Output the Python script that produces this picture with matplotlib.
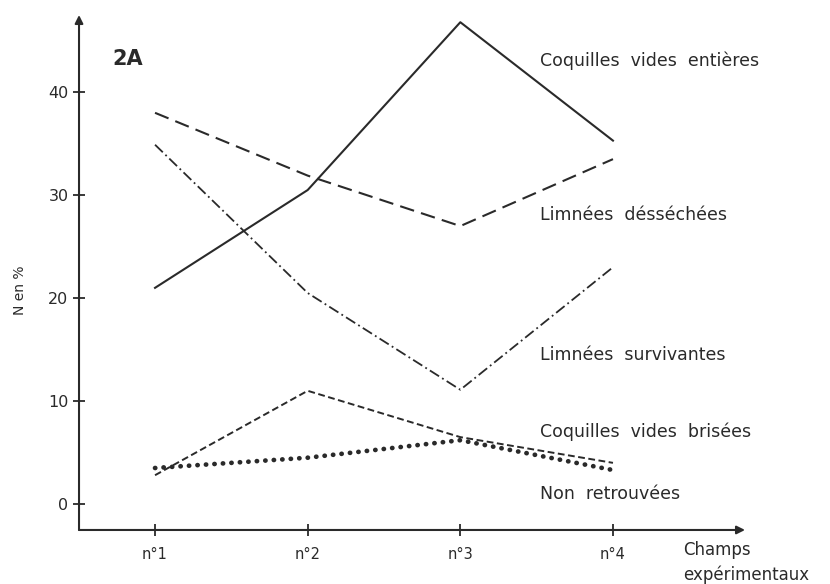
import matplotlib
matplotlib.use("Agg")
import matplotlib.pyplot as plt

plt.rcParams['font.family'] = ['DejaVu Sans']

champs = [1, 2, 3, 4]
champ_labels = ["n°1", "n°2", "n°3", "n°4"]

entieres = [21.0, 30.5, 46.8, 35.3]
dessechees = [38.0, 31.9, 27.0, 33.5]
survivantes = [34.9, 20.5, 11.1, 23.0]
brisees = [2.8, 11.0, 6.5, 4.0]
non_retrouvees = [3.5, 4.5, 6.2, 3.3]

fig = plt.figure(figsize=(8.3, 5.84), dpi=100)
ax = fig.add_axes([0.0952, 0.0925, 0.8024, 0.8818])
ax.set_xlim(0.502, 4.865)
ax.set_ylim(-2.52, 47.5)

ink = "#2a2a2a"
ax.plot(champs, entieres, color=ink, lw=1.5, linestyle="-")
ax.plot(champs, dessechees, color=ink, lw=1.5, linestyle=(0, (7, 3.5)))
ax.plot(champs, survivantes, color=ink, lw=1.3, linestyle=(0, (6, 2, 1, 2)))
ax.plot(champs, brisees, color=ink, lw=1.4, linestyle=(0, (3.5, 1.8)))
ax.plot(champs, non_retrouvees, color=ink, lw=3.4, linestyle=(0, (0.05, 1.75)),
        dash_capstyle="round")

# axes drawn as arrows
for s in ax.spines.values():
    s.set_visible(False)
ax.annotate("", xy=(0, 1.0), xytext=(0, 0), xycoords="axes fraction",
            arrowprops=dict(arrowstyle="-|>", color=ink, lw=1.5,
                            mutation_scale=12, shrinkA=0, shrinkB=0))
ax.annotate("", xy=(1.0, 0), xytext=(0, 0), xycoords="axes fraction",
            arrowprops=dict(arrowstyle="-|>", color=ink, lw=1.5,
                            mutation_scale=12, shrinkA=0, shrinkB=0))

ax.set_yticks([0, 10, 20, 30, 40])
ax.set_xticks(champs)
ax.set_xticklabels(champ_labels)
ax.tick_params(axis="y", direction="inout", length=9, width=1.3, color=ink,
               labelsize=11.5, labelcolor=ink, pad=3)
ax.tick_params(axis="x", direction="inout", length=9, width=1.3, color=ink,
               labelsize=10.5, labelcolor=ink, pad=8)

fs = 12.5
series_labels = [
    (43.1, "Coquilles  vides  entières"),
    (28.06, "Limnées  désséchées"),
    (14.47, "Limnées  survivantes"),
    (7.0, "Coquilles  vides  brisées"),
    (0.97, "Non  retrouvées"),
]
for yv, txt in series_labels:
    ax.text(3.52, yv, txt, fontsize=fs, color=ink, va="center", ha="left")

ax.text(4.46, -4.47, "Champs", fontsize=12, color=ink, va="center", ha="left")
ax.text(4.46, -6.9, "expérimentaux", fontsize=12, color=ink, va="center", ha="left")

ax.text(0.72, 43.2, "2A", fontsize=15, fontweight="bold", color=ink,
        va="center", ha="left")

fig.text(20 / 830, 1 - 290 / 584, "N en %", rotation=90, fontsize=10,
         color=ink, va="center", ha="center")

fig.savefig("out.png", dpi=100, facecolor="white")
